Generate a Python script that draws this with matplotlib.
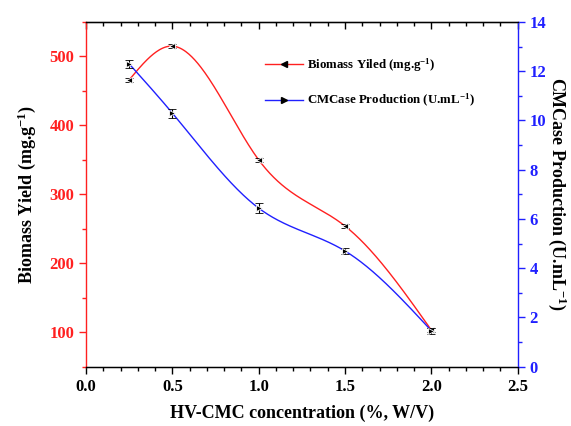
import matplotlib
matplotlib.use("Agg")
import matplotlib.pyplot as plt
import numpy as np
from matplotlib.ticker import MultipleLocator

plt.rcParams['font.family'] = ['Liberation Serif', 'DejaVu Serif']
plt.rcParams['font.weight'] = 'bold'
plt.rcParams['mathtext.fontset'] = 'custom'
plt.rcParams['mathtext.rm'] = 'Liberation Serif:bold'
plt.rcParams['mathtext.default'] = 'rm'

# HV-CMC concentration (%, W/V)
conc = [0.25, 0.5, 1.0, 1.5, 2.0]
# biomass yield (mg/g) and its error
biomass = [466, 515, 350, 254, 103]
biomass_err = [3, 3, 3, 3, 3]
# CMCase production (U/mL) and its error
cmcase = [12.3, 10.3, 6.44, 4.70, 1.46]
cmcase_err = [0.15, 0.18, 0.2, 0.12, 0.12]

RED = '#ff2020'
BLUE = '#2020ff'


def natural_spline(x, y, n=300):
    x = np.asarray(x, float)
    y = np.asarray(y, float)
    k = len(x)
    h = np.diff(x)
    A = np.zeros((k, k))
    b = np.zeros(k)
    A[0, 0] = A[-1, -1] = 1
    for i in range(1, k - 1):
        A[i, i - 1] = h[i - 1]
        A[i, i] = 2 * (h[i - 1] + h[i])
        A[i, i + 1] = h[i]
        b[i] = 6 * ((y[i + 1] - y[i]) / h[i] - (y[i] - y[i - 1]) / h[i - 1])
    M = np.linalg.solve(A, b)
    xs = np.linspace(x[0], x[-1], n)
    idx = np.clip(np.searchsorted(x, xs) - 1, 0, k - 2)
    x0, x1 = x[idx], x[idx + 1]
    hh = x1 - x0
    ys = (M[idx] * (x1 - xs) ** 3 / (6 * hh) + M[idx + 1] * (xs - x0) ** 3 / (6 * hh)
          + (y[idx] / hh - M[idx] * hh / 6) * (x1 - xs)
          + (y[idx + 1] / hh - M[idx + 1] * hh / 6) * (xs - x0))
    return xs, ys


fig = plt.figure(figsize=(5.71, 4.26), dpi=100)
ax = fig.add_axes([0.1506, 0.1392, 0.7561, 0.8092])
ax2 = ax.twinx()

xs, ys = natural_spline(conc, biomass)
ax.plot(xs, ys, color=RED, lw=1.0, zorder=2)
ax.errorbar(conc, biomass, yerr=biomass_err, fmt='<', color='black', ms=5,
            capsize=3, elinewidth=0.8, capthick=0.8, mec='white', mew=0.6, zorder=3)

xs, ys = natural_spline(conc, cmcase)
ax2.plot(xs, ys, color=BLUE, lw=1.0, zorder=2)
ax2.errorbar(conc, cmcase, yerr=cmcase_err, fmt='>', color='black', ms=5,
             capsize=3, elinewidth=0.8, capthick=0.8, mec='white', mew=0.6, zorder=3)

ax.set_xlim(0, 2.5)
ax.set_ylim(50, 550)
ax2.set_ylim(0, 14)

ax.xaxis.set_major_locator(MultipleLocator(0.5))
ax.xaxis.set_minor_locator(MultipleLocator(0.1))
ax.yaxis.set_major_locator(MultipleLocator(100))
ax.yaxis.set_minor_locator(MultipleLocator(50))
ax2.yaxis.set_major_locator(MultipleLocator(2))
ax2.yaxis.set_minor_locator(MultipleLocator(1))

ax.tick_params(axis='x', which='major', direction='out', length=5, width=1, labelsize=12)
ax.tick_params(axis='x', which='minor', direction='out', length=3, width=1)
ax.tick_params(axis='y', which='major', direction='out', length=5, width=1,
               colors=RED, labelsize=12)
ax.tick_params(axis='y', which='minor', direction='out', length=3, width=1, colors=RED)
ax2.tick_params(axis='y', which='major', direction='out', length=5, width=1,
                colors=BLUE, labelsize=12)
ax2.tick_params(axis='y', which='minor', direction='out', length=3, width=1, colors=BLUE)

# top axis: ticks pointing inwards, no labels
top = ax.secondary_xaxis('top')
top.xaxis.set_major_locator(MultipleLocator(0.5))
top.xaxis.set_minor_locator(MultipleLocator(0.1))
top.tick_params(which='major', direction='in', length=5, width=1, labeltop=False)
top.tick_params(which='minor', direction='in', length=3, width=1)

for lab in ax.get_xticklabels() + ax.get_yticklabels() + ax2.get_yticklabels():
    lab.set_fontweight('bold')

ax.spines['left'].set_color(RED)
ax2.spines['left'].set_visible(False)
ax2.spines['right'].set_color(BLUE)
ax.spines['right'].set_visible(False)
for sp in ax.spines.values():
    sp.set_linewidth(1)
ax2.spines['right'].set_linewidth(1)

ax.set_xlabel('HV-CMC concentration (%, W/V)', fontsize=13, fontweight='bold', labelpad=7)
ax.set_ylabel('Biomass Yield (mg.g$^{-1}$)', fontsize=13, fontweight='bold', labelpad=8)
ax2.set_ylabel('CMCase Production (U.mL$^{-1}$)', fontsize=13, fontweight='bold',
               rotation=270, labelpad=16)

# legend handles: coloured line with a black marker in the middle
h1, = ax.plot([], [], color=RED, lw=1.0, marker='<', mfc='black', mec='black', ms=5)
h2, = ax.plot([], [], color=BLUE, lw=1.0, marker='>', mfc='black', mec='black', ms=5)
ax.legend([h1, h2], ['Biomass Yiled (mg.g$^{-1}$)', 'CMCase Production (U.mL$^{-1}$)'],
          loc='upper left', bbox_to_anchor=(0.387, 0.934), frameon=False,
          prop={'size': 9.3, 'weight': 'bold'}, handlelength=3.0, handletextpad=0.3,
          labelspacing=1.42, numpoints=1)

fig.savefig('out.png', dpi=100)
